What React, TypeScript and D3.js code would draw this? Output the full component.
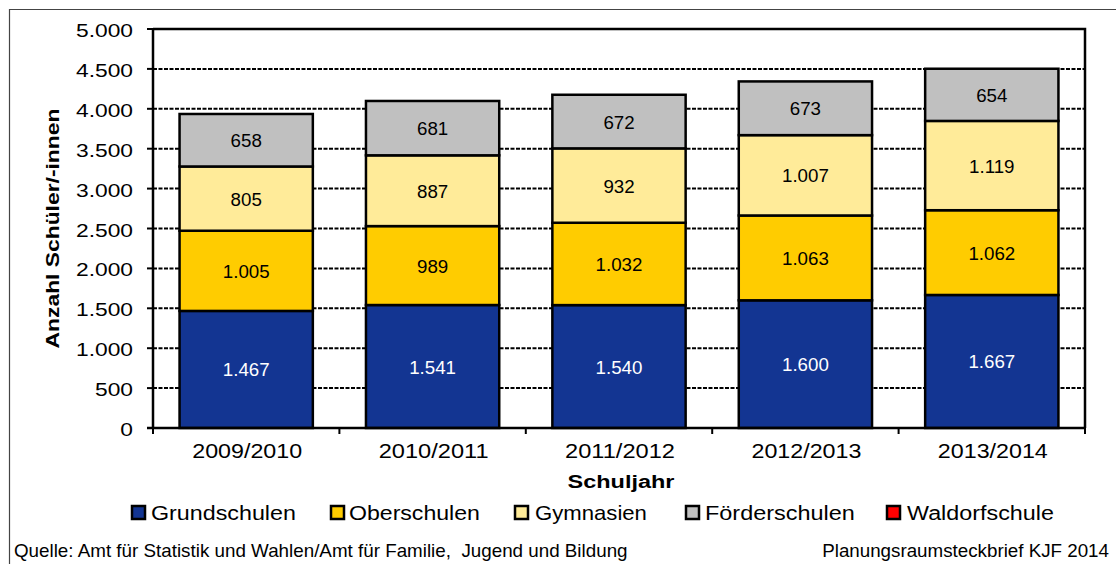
import React, { useEffect, useRef } from "react"
import * as d3 from "d3"

const years = ["2009/2010", "2010/2011", "2011/2012", "2012/2013", "2013/2014"]
const grundschulen = [1467, 1541, 1540, 1600, 1667]
const oberschulen = [1005, 989, 1032, 1063, 1062]
const gymnasien = [805, 887, 932, 1007, 1119]
const foerderschulen = [658, 681, 672, 673, 654]
const waldorfschule = [0, 0, 0, 0, 0]
const seriesNames = ["Grundschulen", "Oberschulen", "Gymnasien", "Förderschulen", "Waldorfschule"]
const seriesColors = ["#133592", "#FFCC00", "#FFEB99", "#C0C0C0", "#FF0000"]
const yTicks = [0, 500, 1000, 1500, 2000, 2500, 3000, 3500, 4000, 4500, 5000]

const fmt = (v: number) => {
    const s = String(v)
    return s.length > 3 ? s.slice(0, s.length - 3) + "." + s.slice(-3) : s
}

// the source renders its text horizontally stretched, so squeeze/stretch each label to its width
const stretch = (t: any, x: number, y: number, sx: number, rot = false) => {
    t.attr("transform", `translate(${x},${y})${rot ? " rotate(-90)" : ""} scale(${sx},1)`)
}
const fitTo = (t: any, x: number, y: number, width: number, rot = false) => {
    const w = (t.node() as SVGTextElement).getComputedTextLength()
    stretch(t, x, y, w > 0 ? width / w : 1, rot)
}

export default function App() {
    const ref = useRef<SVGSVGElement>(null)

    useEffect(() => {
        const svg = d3.select(ref.current)
        svg.selectAll("*").remove()
        const font = "Arial, 'Liberation Sans', sans-serif"
        const left = 153, right = 1085, top = 29, bottom = 428

        // outer frame (runs off the right and bottom edge)
        svg.append("path")
            .attr("d", "M9.5,570V9.5H1120")
            .attr("fill", "none").attr("stroke", "#444").attr("stroke-width", 1.2)

        const x = d3.scaleBand().domain(years).range([left, right]).paddingInner(0.285).paddingOuter(0.1425)
        const xb = d3.scaleBand().domain(years).range([left, right])
        const y = d3.scaleLinear().domain([0, 5000]).range([bottom, top])

        // gridlines
        svg.append("g").selectAll("line")
            .data(yTicks.filter(t => t > 0 && t < 5000))
            .enter().append("line")
            .attr("x1", left).attr("x2", right)
            .attr("y1", d => y(d)).attr("y2", d => y(d))
            .attr("stroke", "#000").attr("stroke-width", 2)
            .attr("stroke-dasharray", "4,1.5")

        // plot frame top/right
        svg.append("path")
            .attr("d", `M${left},${top}H${right}V${bottom}`)
            .attr("fill", "none").attr("stroke", "#000").attr("stroke-width", 2.5)

        const rows = years.map((yr, i) => ({
            year: yr,
            Grundschulen: grundschulen[i],
            Oberschulen: oberschulen[i],
            Gymnasien: gymnasien[i],
            "Förderschulen": foerderschulen[i],
            Waldorfschule: waldorfschule[i],
        }))
        const stack = d3.stack<any>().keys(seriesNames)(rows)

        stack.forEach((layer, si) => {
            if (si === 4) return
            const g = svg.append("g")
            g.selectAll("rect").data(layer).enter().append("rect")
                .attr("x", d => x(d.data.year)!)
                .attr("width", x.bandwidth())
                .attr("y", d => y(d[1]))
                .attr("height", d => y(d[0]) - y(d[1]))
                .attr("fill", seriesColors[si])
                .attr("stroke", "#000").attr("stroke-width", 2.5)
            g.selectAll("text").data(layer).enter().append("text")
                .attr("text-anchor", "middle")
                .attr("font-family", font).attr("font-size", 18)
                .attr("fill", si === 0 ? "#fff" : "#000")
                .text(d => fmt(d[1] - d[0]))
                .each(function (d: any) {
                    stretch(d3.select(this), x(d.data.year)! + x.bandwidth() / 2, (y(d[0]) + y(d[1])) / 2 + 7, 1.04)
                })
        })

        // y axis
        const ya = svg.append("g")
        ya.append("line").attr("x1", left).attr("x2", left).attr("y1", top).attr("y2", bottom)
            .attr("stroke", "#000").attr("stroke-width", 2.5)
        ya.selectAll("line.t").data(yTicks).enter().append("line")
            .attr("x1", left - 6).attr("x2", left)
            .attr("y1", d => y(d)).attr("y2", d => y(d))
            .attr("stroke", "#000").attr("stroke-width", 2)
        ya.selectAll("text").data(yTicks).enter().append("text")
            .attr("text-anchor", "end")
            .attr("font-family", font).attr("font-size", 19)
            .text(d => fmt(d))
            .each(function (d: any) { stretch(d3.select(this), 133, y(d) + 8, 1.2) })

        // x axis
        const xa = svg.append("g")
        xa.append("line").attr("x1", left - 6).attr("x2", right).attr("y1", bottom).attr("y2", bottom)
            .attr("stroke", "#000").attr("stroke-width", 2.5)
        xa.selectAll("line.t").data(years).enter().append("line")
            .attr("x1", d => xb(d)! + xb.bandwidth()).attr("x2", d => xb(d)! + xb.bandwidth())
            .attr("y1", bottom).attr("y2", bottom + 6)
            .attr("stroke", "#000").attr("stroke-width", 2)
        xa.append("line").attr("x1", left).attr("x2", left).attr("y1", bottom).attr("y2", bottom + 6)
            .attr("stroke", "#000").attr("stroke-width", 2)
        xa.selectAll("text").data(years).enter().append("text")
            .attr("text-anchor", "middle")
            .attr("font-family", font).attr("font-size", 19.5)
            .text(d => d)
            .each(function (d: any) { fitTo(d3.select(this), xb(d)! + xb.bandwidth() / 2 + 1, 458, 110) })

        const xt = svg.append("text")
            .attr("text-anchor", "middle")
            .attr("font-family", font).attr("font-size", 19).attr("font-weight", "bold")
            .text("Schuljahr")
        fitTo(xt, 621, 488, 107)

        const yt = svg.append("text")
            .attr("text-anchor", "middle")
            .attr("font-family", font).attr("font-size", 19).attr("font-weight", "bold")
            .text("Anzahl Schüler/-innen")
        fitTo(yt, 59, (top + bottom) / 2, 240, true)

        // legend
        const legendSwatchX = [132, 331, 515, 686, 887]
        const legendTextX = [151, 349, 535, 705, 907]
        const legendTextW = [145, 131, 112, 150, 147]
        const lg = svg.append("g")
        seriesNames.forEach((name, i) => {
            lg.append("rect")
                .attr("x", legendSwatchX[i]).attr("y", 506)
                .attr("width", 13).attr("height", 13)
                .attr("fill", seriesColors[i]).attr("stroke", "#000").attr("stroke-width", 2.5)
            const t = lg.append("text")
                .attr("font-family", font).attr("font-size", 21)
                .text(name)
            fitTo(t, legendTextX[i], 520, legendTextW[i])
        })

        // footer
        const f1 = svg.append("text")
            .attr("font-family", font).attr("font-size", 18.5)
            .attr("xml:space", "preserve")
            .text("Quelle: Amt für Statistik und Wahlen/Amt für Familie,  Jugend und Bildung")
        fitTo(f1, 14, 557, 614)
        const f2 = svg.append("text")
            .attr("text-anchor", "end")
            .attr("font-family", font).attr("font-size", 18.5)
            .text("Planungsraumsteckbrief KJF 2014")
        fitTo(f2, 1109, 557, 287)
    }, [])

    return (
        <svg ref={ref} width={1116} height={564}
            style={{ position: "absolute", left: 0, top: 0, background: "#fff" }} />
    )
}
